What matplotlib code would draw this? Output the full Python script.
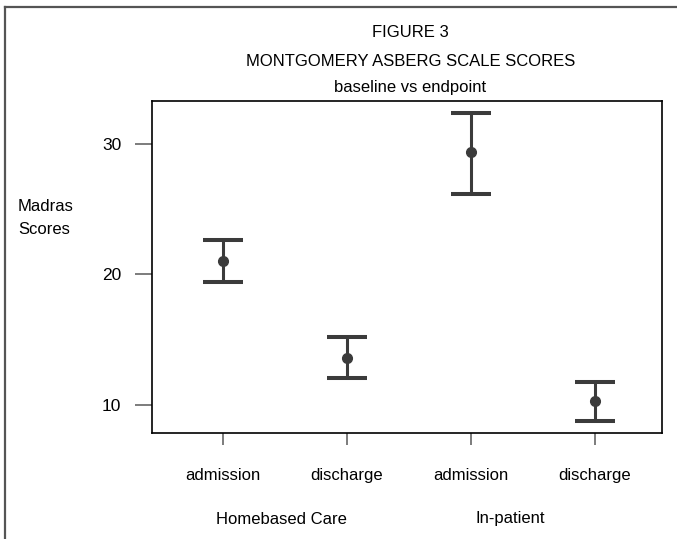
import matplotlib
matplotlib.use('Agg')
import matplotlib.pyplot as plt
from matplotlib.lines import Line2D

plt.rcParams['font.family'] = ['Liberation Sans', 'DejaVu Sans']
plt.rcParams['font.size'] = 12

# data
conditions = ['admission', 'discharge', 'admission', 'discharge']
groups = ['Homebased Care', 'In-patient']
means = [21.0, 13.62, 29.34, 10.28]
lower = [19.45, 12.09, 26.17, 8.74]
upper = [22.65, 15.18, 32.37, 11.78]
yticks = [10, 20, 30]

x = list(range(1, len(means) + 1))
err_lo = [m - l for m, l in zip(means, lower)]
err_hi = [u - m for m, u in zip(means, upper)]

fig = plt.figure(figsize=(6.77, 5.39), dpi=100)
ax = fig.add_axes([0.2245, 0.1967, 0.7535, 0.6159])

col = '#3b3b3b'
ax.errorbar(x, means, yerr=[err_lo, err_hi], fmt='o', color=col,
            ecolor=col, elinewidth=2.2, capsize=14.5, capthick=2.9,
            markersize=7)

ax.set_xlim(0.431, 4.544)
ax.set_ylim(7.86, 33.27)
ax.set_xticks(x)
ax.set_xticklabels(conditions)
ax.set_yticks(yticks)
ax.tick_params(axis='y', length=12, width=1.2, color='#666666', pad=10,
               labelsize=12.5)
ax.tick_params(axis='x', length=8.5, width=1.2, color='#666666', pad=16.5)
for s in ax.spines.values():
    s.set_linewidth(1.2)

# titles
fig.text(0.606, 0.939, 'FIGURE 3', ha='center', va='center')
fig.text(0.606, 0.885, 'MONTGOMERY ASBERG SCALE SCORES', ha='center', va='center')
fig.text(0.606, 0.837, 'baseline vs endpoint', ha='center', va='center')

# y label
fig.text(18 / 677, 1 - 207 / 539, 'Madras', ha='left', va='center')
fig.text(18 / 677, 1 - 230 / 539, 'Scores', ha='left', va='center')

# group labels
fig.text(281 / 677, 1 - 519 / 539, groups[0], ha='center', va='center')
fig.text(510 / 677, 1 - 519 / 539, groups[1], ha='center', va='center')

# partial outer frame
fig.add_artist(Line2D([5 / 677, 1.0], [1 - 6.5 / 539] * 2, color='#555555', lw=1.6))
fig.add_artist(Line2D([5 / 677] * 2, [0, 1 - 6.5 / 539], color='#555555', lw=1.6))

fig.savefig('out.png', dpi=100)
